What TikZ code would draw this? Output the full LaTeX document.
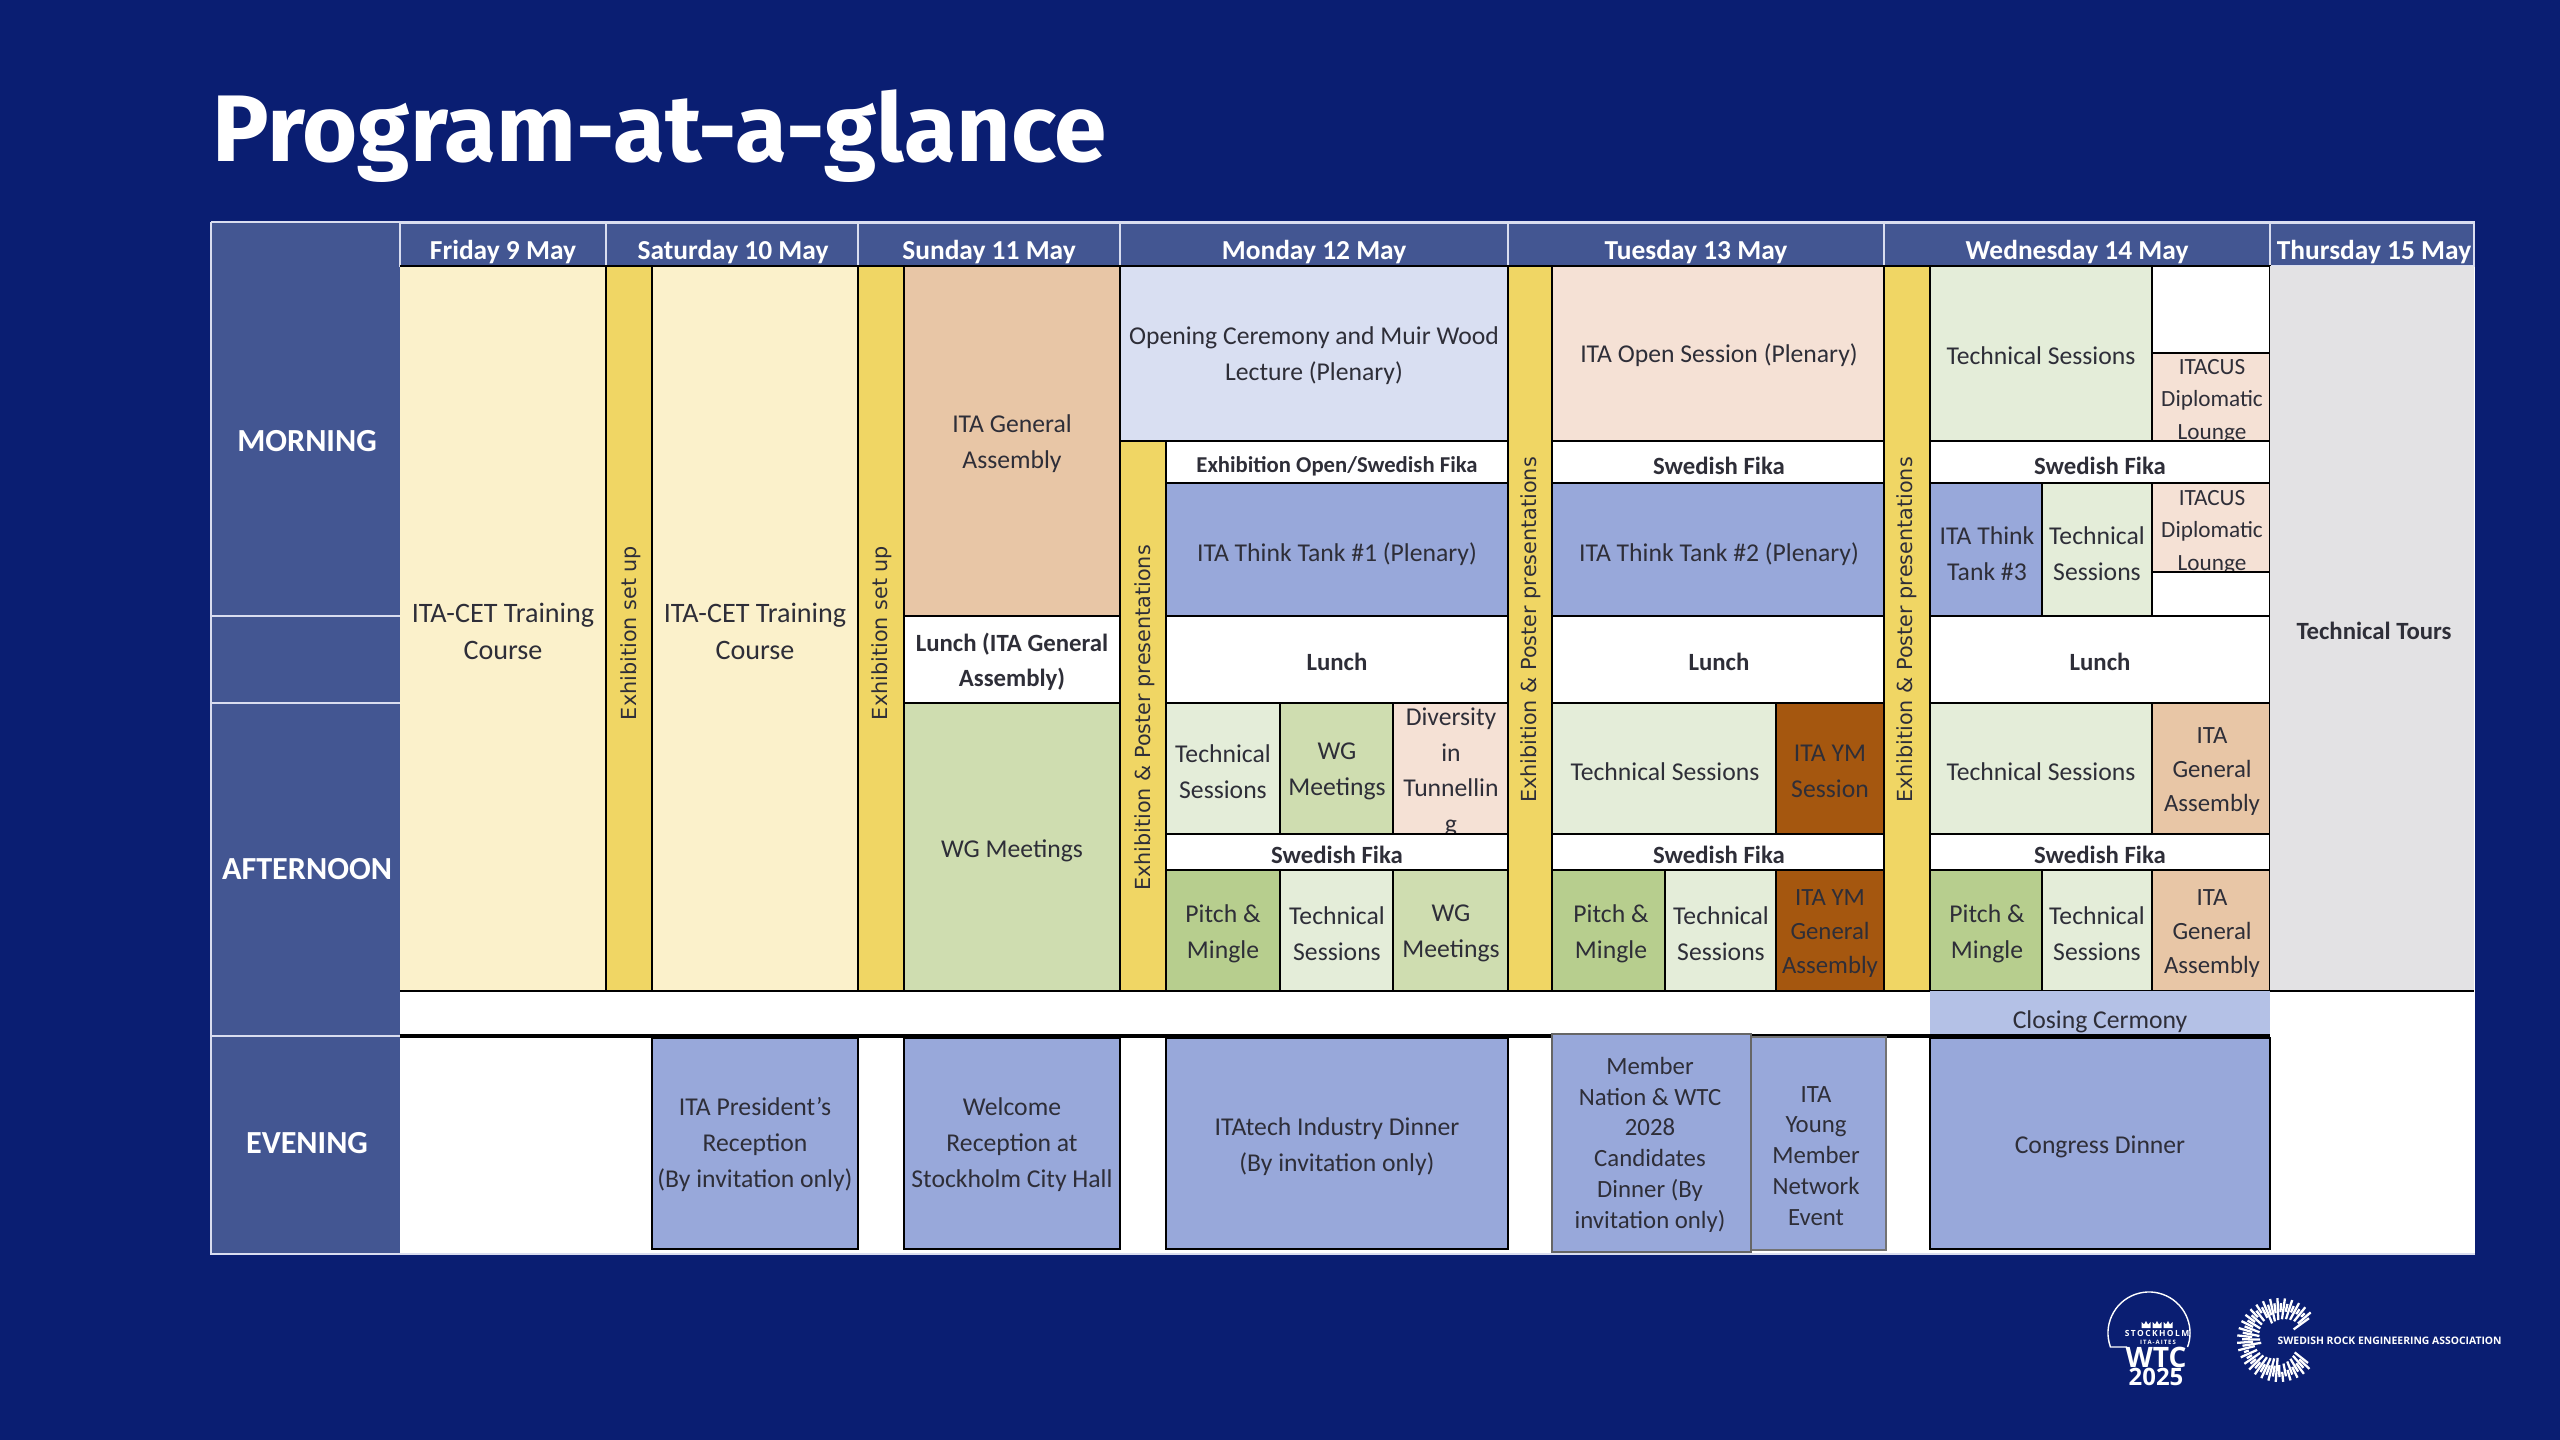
\documentclass[tikz,border=0pt]{standalone}
\usepackage{fontspec}
\usetikzlibrary{calc}
\setmainfont{Carlito}
\newfontfamily\titlefont{Fira Sans}
\newfontfamily\vertfont{DejaVu Sans}
\newfontfamily\logofont{Open Sans}
\definecolor{bgblue}{HTML}{0A1E72}
\definecolor{headblue}{HTML}{435692}
\definecolor{cream}{HTML}{FBF1CB}
\definecolor{yellowbar}{HTML}{F0D664}
\definecolor{gatan}{HTML}{E8C6A6}
\definecolor{opening}{HTML}{D9DFF2}
\definecolor{tank}{HTML}{98A8DA}
\definecolor{peach}{HTML}{F5E1D5}
\definecolor{tech}{HTML}{E4EDD9}
\definecolor{wgreen}{HTML}{CFDDB0}
\definecolor{pitch}{HTML}{B7CE8E}
\definecolor{brownym}{HTML}{A5570F}
\definecolor{closing}{HTML}{B4C1E6}
\definecolor{tours}{HTML}{E3E2E4}
\definecolor{txt}{HTML}{2E2E38}
\definecolor{paleline}{HTML}{D9DDF0}
\tikzset{
 rectcell/.style={inner sep=0pt,outer sep=0pt,anchor=north west,draw=black,line width=0.32pt},
 bodytext/.style={inner sep=0pt,yshift=-0.4pt,align=center,text=txt,font=\fontsize{7.3}{10.2}\selectfont},
 cettext/.style={bodytext,font=\fontsize{8}{10.5}\selectfont},
 loungetext/.style={bodytext,font=\fontsize{6.6}{9.3}\selectfont},
 gatext/.style={bodytext,font=\fontsize{7.05}{9.7}\selectfont},
 boldtext/.style={bodytext,yshift=0.2pt,font=\fontsize{7.05}{10}\selectfont\bfseries},
 smallbold/.style={bodytext,font=\fontsize{6.45}{9}\selectfont\bfseries},
 headtext/.style={inner sep=0pt,yshift=-0.6pt,align=center,text=white,font=\fontsize{7.8}{9}\selectfont\bfseries},
 sidetext/.style={inner sep=0pt,text=white,font=\fontsize{9.15}{10}\selectfont\bfseries},
 verttext/.style={inner sep=0pt,rotate=90,text=txt,font=\vertfont\fontsize{5.9}{7}\selectfont},
 tightspace/.style={bodytext,yshift=-0.1pt,font=\fontsize{7.05}{8.75}\selectfont},
 logoline/.style={draw=white,line width=0.4pt},
 burst/.style={draw=white,line width=0.65pt},
 tablerule/.style={draw=black,line width=0.32pt},
 logotext/.style={inner sep=0pt,text=white},
}
% name, x1, y1, x2, y2, fill
\newcommand{\cellbox}[6]{%
 \pgfmathsetmacro{\cw}{(#4-#2)*0.01}\pgfmathsetmacro{\ch}{(#5-#3)*0.01}%
 \node[rectcell,fill=#6,minimum width=\cw cm,minimum height=\ch cm] (#1) at (#2,#3) {};}
\newcommand{\headcell}[6]{%
 \pgfmathsetmacro{\cw}{(#4-#2)*0.01}\pgfmathsetmacro{\ch}{(#5-#3)*0.01}%
 \node[rectcell,draw=paleline,line width=0.4pt,fill=#6,minimum width=\cw cm,minimum height=\ch cm] (#1) at (#2,#3) {};}
\begin{document}
\begin{tikzpicture}[x=0.01cm,y=-0.01cm]
\useasboundingbox (0,0) rectangle (2560,1440);
\fill[bgblue] (0,0) rectangle (2560,1440);
\node[anchor=base west,inner sep=0pt,text=white,font=\titlefont\fontsize{26.9}{30}\selectfont\bfseries] (title) at (212,162) {Program-at-a-glance};
% table ground
\fill[white] (211,222) rectangle (2475,1254);
% side header
\fill[headblue] (212,223) rectangle (400,1253);
\draw[paleline,line width=0.4pt] (212,616) -- (400,616) (212,703) -- (400,703) (212,1036) -- (400,1036);
\node[sidetext] (lmorn) at (307,441) {MORNING};
\node[sidetext] (laft) at (307,869) {AFTERNOON};
\node[sidetext] (leve) at (307,1143) {EVENING};
% day headers
\headcell{dfri}{400}{223}{606}{266}{headblue}
\headcell{dsat}{606}{223}{858}{266}{headblue}
\headcell{dsun}{858}{223}{1120}{266}{headblue}
\headcell{dmon}{1120}{223}{1508}{266}{headblue}
\headcell{dtue}{1508}{223}{1884}{266}{headblue}
\headcell{dwed}{1884}{223}{2270}{266}{headblue}
\headcell{dthu}{2270}{223}{2474}{266}{headblue}
\node[headtext] (tfri) at (503,250) {Friday 9 May};
\node[headtext] (tsat) at (733,250) {Saturday 10 May};
\node[headtext] (tsun) at (989,250) {Sunday 11 May};
\node[headtext] (tmon) at (1314,250) {Monday 12 May};
\node[headtext] (ttue) at (1696,250) {Tuesday 13 May};
\node[headtext] (twed) at (2077,250) {Wednesday 14 May};
\node[headtext] (tthu) at (2374,250) {Thursday 15 May};
% Friday - Sunday
\fill[cream] (400,266) rectangle (606,991);
\draw[tablerule] (400,266) -- (606,266);
\node[cettext] (tcet1) at (503,630) {ITA-CET Training\\Course};
\cellbox{ex1}{606}{266}{652}{991}{yellowbar}
\node[verttext] (tex1) at (631,633) {Exhibition set up};
\cellbox{cet2}{652}{266}{858}{991}{cream}
\node[cettext] (tcet2) at (755,630) {ITA-CET Training\\Course};
\cellbox{ex2}{858}{266}{904}{991}{yellowbar}
\node[verttext] (tex2) at (882,633) {Exhibition set up};
\cellbox{ga1}{904}{266}{1120}{616}{gatan}
\node[bodytext] (tga1) at (1012,442) {ITA General\\Assembly};
\cellbox{lun1}{904}{616}{1120}{703}{white}
\node[boldtext] (tlun1) at (1012,661) {Lunch (ITA General\\Assembly)};
\cellbox{wg1}{904}{703}{1120}{991}{wgreen}
\node[bodytext] (twg1) at (1012,849) {WG Meetings};
% Monday
\cellbox{open1}{1120}{266}{1508}{441}{opening}
\node[bodytext] (topen1) at (1314,354) {Opening Ceremony and Muir Wood\\Lecture (Plenary)};
\cellbox{ex3}{1120}{441}{1166}{991}{yellowbar}
\node[verttext] (tex3) at (1145,718) {Exhibition \& Poster presentations};
\cellbox{fk1}{1166}{441}{1508}{483}{white}
\node[smallbold] (tfk1) at (1337,465) {Exhibition Open/Swedish Fika};
\cellbox{tt1}{1166}{483}{1508}{616}{tank}
\node[bodytext] (ttt1) at (1337,553) {ITA Think Tank \#1 (Plenary)};
\cellbox{lun2}{1166}{616}{1508}{703}{white}
\node[boldtext] (tlun2) at (1337,661) {Lunch};
\cellbox{ts1}{1166}{703}{1280}{834}{tech}
\node[bodytext] (tts1) at (1223,770) {Technical\\Sessions};
\cellbox{wg2}{1280}{703}{1393}{834}{wgreen}
\node[bodytext] (twg2) at (1337,770) {WG\\Meetings};
\cellbox{div}{1393}{703}{1508}{834}{peach}
\begin{scope}
\clip (1393,703) rectangle (1508,834);
\node[bodytext] (tdiv) at (1451,771) {Diversity\\in\\Tunnellin\\g};
\end{scope}
\cellbox{fk2}{1166}{834}{1508}{870}{white}
\node[boldtext] (tfk2) at (1337,854) {Swedish Fika};
\cellbox{pm1}{1166}{870}{1280}{991}{pitch}
\node[bodytext] (tpm1) at (1223,932) {Pitch \&\\Mingle};
\cellbox{ts2}{1280}{870}{1393}{991}{tech}
\node[bodytext] (tts2) at (1337,932) {Technical\\Sessions};
\cellbox{wg3}{1393}{870}{1508}{991}{wgreen}
\node[bodytext] (twg3) at (1451,932) {WG\\Meetings};
% Tuesday
\cellbox{ex4}{1508}{266}{1552}{991}{yellowbar}
\node[verttext] (tex4) at (1531,630) {Exhibition \& Poster presentations};
\cellbox{os}{1552}{266}{1884}{441}{peach}
\node[bodytext] (tos) at (1719,354) {ITA Open Session (Plenary)};
\cellbox{fk3}{1552}{441}{1884}{483}{white}
\node[boldtext] (tfk3) at (1719,465) {Swedish Fika};
\cellbox{tt2}{1552}{483}{1884}{616}{tank}
\node[bodytext] (ttt2) at (1719,553) {ITA Think Tank \#2 (Plenary)};
\cellbox{lun3}{1552}{616}{1884}{703}{white}
\node[boldtext] (tlun3) at (1719,661) {Lunch};
\cellbox{ts3}{1552}{703}{1776}{834}{tech}
\node[bodytext] (tts3) at (1665,770) {Technical Sessions};
\cellbox{ym1}{1776}{703}{1884}{834}{brownym}
\node[bodytext] (tym1) at (1830,770) {ITA YM\\Session};
\cellbox{fk4}{1552}{834}{1884}{870}{white}
\node[boldtext] (tfk4) at (1719,854) {Swedish Fika};
\cellbox{pm2}{1552}{870}{1665}{991}{pitch}
\node[bodytext] (tpm2) at (1611,932) {Pitch \&\\Mingle};
\cellbox{ts4}{1665}{870}{1776}{991}{tech}
\node[bodytext] (tts4) at (1721,932) {Technical\\Sessions};
\cellbox{ym2}{1776}{870}{1884}{991}{brownym}
\node[gatext] (tym2) at (1830,932) {ITA YM\\General\\Assembly};
% Wednesday
\cellbox{ex5}{1884}{266}{1930}{991}{yellowbar}
\node[verttext] (tex5) at (1907,630) {Exhibition \& Poster presentations};
\cellbox{ts5}{1930}{266}{2152}{441}{tech}
\node[bodytext] (tts5) at (2041,354) {Technical Sessions};
\cellbox{blank1}{2152}{266}{2270}{353}{white}
\cellbox{dl1}{2152}{353}{2270}{441}{peach}
\begin{scope}
\clip (2152,353) rectangle (2270,441);
\node[loungetext] (tdl1) at (2212,400) {ITACUS\\Diplomatic\\Lounge};
\end{scope}
\cellbox{fk5}{1930}{441}{2270}{483}{white}
\node[boldtext] (tfk5) at (2100,465) {Swedish Fika};
\cellbox{tt3}{1930}{483}{2042}{616}{tank}
\node[bodytext] (ttt3) at (1987,552) {ITA Think\\Tank \#3};
\cellbox{ts6}{2042}{483}{2152}{616}{tech}
\node[bodytext] (tts6) at (2097,552) {Technical\\Sessions};
\cellbox{dl2}{2152}{483}{2270}{572}{peach}
\begin{scope}
\clip (2152,483) rectangle (2270,572);
\node[loungetext] (tdl2) at (2212,531) {ITACUS\\Diplomatic\\Lounge};
\end{scope}
\cellbox{blank2}{2152}{572}{2270}{616}{white}
\cellbox{lun4}{1930}{616}{2270}{703}{white}
\node[boldtext] (tlun4) at (2100,661) {Lunch};
\cellbox{ts7}{1930}{703}{2152}{834}{tech}
\node[bodytext] (tts7) at (2041,770) {Technical Sessions};
\cellbox{ga2}{2152}{703}{2270}{834}{gatan}
\node[gatext] (tga2) at (2212,770) {ITA\\General\\Assembly};
\cellbox{fk6}{1930}{834}{2270}{870}{white}
\node[boldtext] (tfk6) at (2100,854) {Swedish Fika};
\cellbox{pm3}{1930}{870}{2042}{991}{pitch}
\node[bodytext] (tpm3) at (1987,932) {Pitch \&\\Mingle};
\cellbox{ts8}{2042}{870}{2152}{991}{tech}
\node[bodytext] (tts8) at (2097,932) {Technical\\Sessions};
\cellbox{ga3}{2152}{870}{2270}{991}{gatan}
\node[gatext] (tga3) at (2212,932) {ITA\\General\\Assembly};
% Thursday
\fill[tours] (2270,266) rectangle (2474,991);
\node[boldtext] (ttours) at (2374,630) {Technical Tours};
% rules
\draw[tablerule] (400,991) -- (2474,991);
% closing
\fill[closing] (1930,991) rectangle (2270,1036);
\node[bodytext] (tclose) at (2100,1020) {Closing Cermony};
\draw[black,line width=0.9pt] (400,1036) -- (2270,1036);
% evening
\cellbox{ev1}{652}{1038}{858}{1249}{tank}
\node[bodytext] (tev1) at (755,1143) {ITA President's\\Reception\\(By invitation only)};
\cellbox{ev2}{904}{1038}{1120}{1249}{tank}
\node[bodytext] (tev2) at (1012,1143) {Welcome\\Reception at\\Stockholm City Hall};
\cellbox{ev3}{1166}{1038}{1508}{1249}{tank}
\node[bodytext] (tev3) at (1337,1145) {ITAtech Industry Dinner\\(By invitation only)};
\cellbox{ev6}{1930}{1038}{2270}{1249}{tank}
\node[bodytext] (tev6) at (2100,1145) {Congress Dinner};
\node[rectcell,fill=tank,draw=black!55,line width=0.5pt,minimum width=1.35cm,minimum height=2.13cm] (ev5) at (1751,1037) {};
\node[tightspace] (tev5) at (1816,1154) {ITA\\Young\\Member\\Network\\Event};
\node[rectcell,fill=tank,draw=black!60,line width=0.6pt,minimum width=1.99cm,minimum height=2.18cm] (ev4) at (1552,1034) {};
\node[tightspace] (tev4) at (1650,1143) {Member\\Nation \& WTC\\2028\\Candidates\\Dinner (By\\invitation only)};
% table frame
\draw[paleline,line width=0.6pt] (211,222) -- (2475,222);
\draw[paleline,line width=0.6pt] (211,222) -- (211,1254) -- (2475,1254);
% WTC logo
\coordinate (wtcc) at (2149,1333);
\draw[logoline] (2127,1347) -- ($(wtcc)+(200:0.41cm)$) arc[start angle=200,end angle=-20,radius=0.41cm];
\foreach \cx in {2146,2157,2168}{
 \fill[white] (\cx-4.5,1328) -- (\cx-4.5,1322) -- (\cx-2,1324.5) -- (\cx,1321) -- (\cx+2,1324.5) -- (\cx+4.5,1322) -- (\cx+4.5,1328) -- cycle;
}
\node[logotext,font=\logofont\fontsize{2.4}{3}\selectfont\bfseries] (lstock) at (2157,1333) {S\,T\,O\,C\,K\,H\,O\,L\,M};
\node[logotext,font=\logofont\fontsize{1.7}{2}\selectfont\bfseries] (lita) at (2158,1342) {I\,T\,A\,-\,A\,I\,T\,E\,S};
\node[logotext,font=\logofont\fontsize{8}{9}\selectfont\bfseries] (lwtc) at (2156,1357) {WTC};
\node[logotext,font=\logofont\fontsize{6.8}{8}\selectfont\bfseries] (lyear) at (2156,1376.5) {2025};
% burst logo
\foreach \i in {0,...,56}{
 \pgfmathsetmacro{\ang}{36+\i*5.1}
 \pgfmathsetmacro{\rin}{18+mod(\i*7,15)}
 \pgfmathsetmacro{\rout}{37+mod(\i*5,10)}
 \pgfmathsetmacro{\xa}{2279+\rin*cos(\ang)}
 \pgfmathsetmacro{\ya}{1340-\rin*sin(\ang)}
 \pgfmathsetmacro{\xb}{2279+\rout*cos(\ang)}
 \pgfmathsetmacro{\yb}{1340-\rout*sin(\ang)}
 \draw[burst] (\xa,\ya) -- (\xb,\yb);
}
\node[anchor=west,logotext,font=\logofont\fontsize{2.95}{3}\selectfont\bfseries] (lsrea) at (2277,1341) {SWEDISH ROCK ENGINEERING ASSOCIATION};
\end{tikzpicture}
\end{document}
